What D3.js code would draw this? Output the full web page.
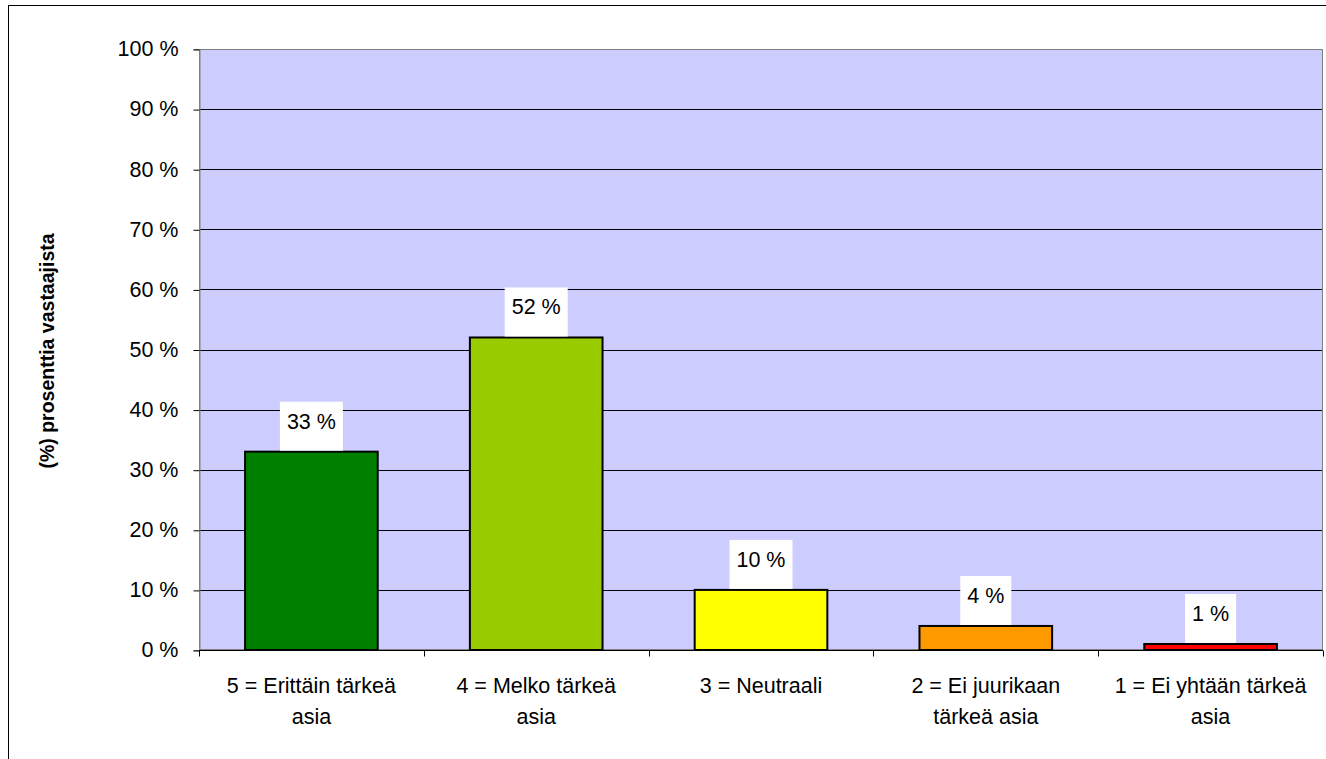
<!DOCTYPE html>
<html><head><meta charset="utf-8">
<script src="https://cdn.jsdelivr.net/npm/d3@7"></script>
<style>body{margin:0;background:#fff}svg{display:block;font-family:"Liberation Sans",Arial,sans-serif}</style>
</head><body>
<svg id="c" width="1326" height="759"></svg>
<script>
const categories = ["5 = Erittäin tärkeä asia","4 = Melko tärkeä asia","3 = Neutraali","2 = Ei juurikaan tärkeä asia","1 = Ei yhtään tärkeä asia"];
const categoryLines = [["5 = Erittäin tärkeä","asia"],["4 = Melko tärkeä","asia"],["3 = Neutraali"],["2 = Ei juurikaan","tärkeä asia"],["1 = Ei yhtään tärkeä","asia"]];
const values = [33, 52, 10, 4, 1];
const colors = ["#008000","#99CC00","#FFFF00","#FF9900","#FF0000"];
const yTicks = [0,10,20,30,40,50,60,70,80,90,100];
const yTitle = "(%) prosenttia vastaajista";

const svg = d3.select("#c");
const L = 199, R = 1323, T = 49, B = 650;
const FS = 21.5;

svg.append("rect").attr("x",8.5).attr("y",5.5).attr("width",1400).attr("height",800)
  .attr("fill","none").attr("stroke","#000").attr("stroke-width",1);

const x = d3.scaleBand().domain(categories).range([L,R]).paddingInner(0.41).paddingOuter(0.205);
const xb = d3.scaleBand().domain(categories).range([L,R]);
const y = d3.scaleLinear().domain([0,100]).range([B,T]);

svg.append("rect").attr("x",L).attr("y",T).attr("width",R-L).attr("height",B-T).attr("fill","#CCCCFF");

// gridlines
svg.append("g").selectAll("line").data(yTicks.filter(d=>d>0)).join("line")
  .attr("x1",L).attr("x2",R).attr("y1",d=>Math.round(y(d))+0.5).attr("y2",d=>Math.round(y(d))+0.5)
  .attr("stroke","#000").attr("stroke-width",1);

// plot border
svg.append("rect").attr("x",L+0.5).attr("y",T+0.5).attr("width",R-L-1).attr("height",B-T-1)
  .attr("fill","none").attr("stroke","#808080").attr("stroke-width",1);

// bars
svg.append("g").selectAll("rect").data(values).join("rect")
  .attr("x",(d,i)=>x(categories[i])).attr("width",x.bandwidth())
  .attr("y",d=>y(d)).attr("height",d=>B-y(d))
  .attr("fill",(d,i)=>colors[i]).attr("stroke","#000").attr("stroke-width",2);

// y axis
const ya = svg.append("g").attr("transform",`translate(${L+0.5},0)`)
  .call(d3.axisLeft(y).tickValues(yTicks).tickFormat(d=>d+" %").tickSize(6).tickPadding(15));
ya.select(".domain").attr("stroke","#808080");
ya.selectAll(".tick line").attr("stroke","#000").attr("transform","translate(0,0.5)");
ya.selectAll(".tick text").attr("font-size",FS).attr("fill","#000").attr("font-family","Liberation Sans, Arial, sans-serif");

// x axis
const xa = svg.append("g").attr("transform",`translate(0,${B+0.5})`);
xa.append("line").attr("x1",L).attr("x2",R).attr("stroke","#000");
const bounds = categories.map(c=>xb(c)).concat([R]);
xa.selectAll("line.t").data(bounds).join("line").attr("class","t")
  .attr("x1",d=>Math.round(d)+0.5).attr("x2",d=>Math.round(d)+0.5).attr("y1",0).attr("y2",6).attr("stroke","#000");
categoryLines.forEach((lines,i)=>{
  const cx = xb(categories[i]) + xb.bandwidth()/2;
  const t = xa.append("text").attr("text-anchor","middle").attr("font-size",FS).attr("fill","#000");
  lines.forEach((ln,j)=>t.append("tspan").attr("x",cx).attr("y",42 + j*31).text(ln));
});

// data labels
const lg = svg.append("g");
values.forEach((v,i)=>{
  const cx = x(categories[i]) + x.bandwidth()/2;
  const top = y(v);
  const t = lg.append("text").attr("text-anchor","middle").attr("font-size",FS).attr("fill","#000")
    .attr("x",cx).attr("y",top-50+27).text(v+" %");
  const w = t.node().getComputedTextLength() + 14;
  lg.insert("rect","text").attr("x",cx-w/2).attr("y",top-50).attr("width",w).attr("height",49).attr("fill","#fff");
});

// y title
svg.append("text").attr("transform","translate(54,351) rotate(-90)").attr("text-anchor","middle")
  .attr("font-size",19.5).attr("font-weight","bold").attr("fill","#000").text(yTitle);
</script>
</body></html>
